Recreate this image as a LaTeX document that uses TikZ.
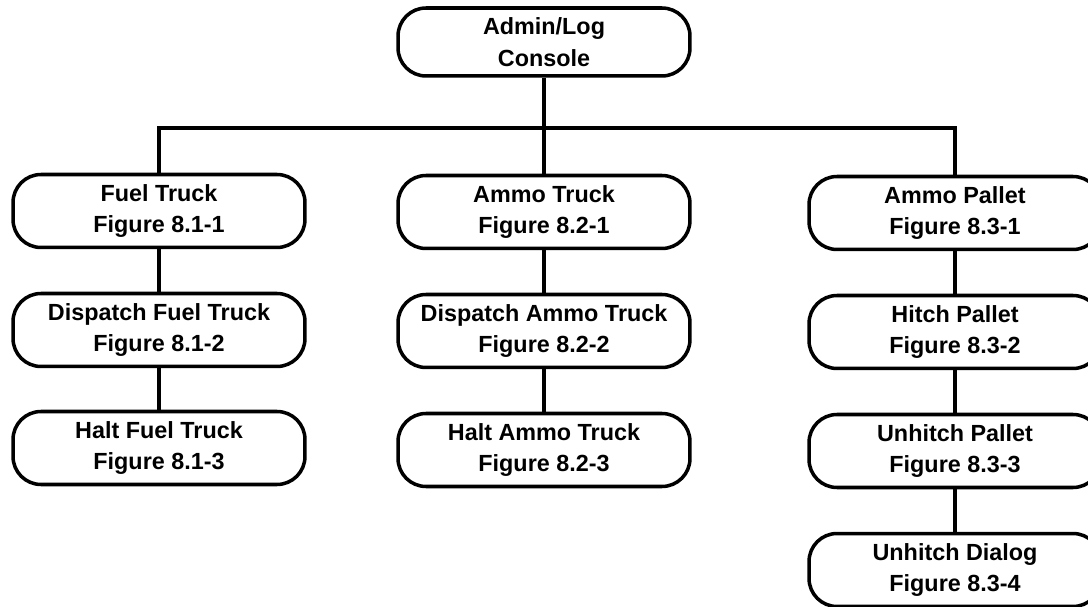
\documentclass[tikz,border=0pt]{standalone}
\usepackage{fontspec}
\setmainfont{Liberation Sans}

\begin{document}
\begin{tikzpicture}[
    x=0.02cm, y=-0.02cm,
    font=\bfseries\fontsize{13.3}{18}\selectfont,
    screen/.style={draw, line width=2pt, rounded corners=0.56cm, minimum width=5.84cm, minimum height=1.46cm, inner sep=0pt, align=center},
    link/.style={line width=2pt}
]
\useasboundingbox (0,0) rectangle (1088,607);

\node[screen, minimum height=1.36cm] (admin) at (544,42) {Admin/Log\\Console};

% fuel truck column
\node[screen] (fuel) at (159,211) {Fuel Truck\\Figure 8.1-1};
\node[screen] (fueldisp) at (159,330) {Dispatch Fuel Truck\\Figure 8.1-2};
\node[screen] (fuelhalt) at (159,448) {Halt Fuel Truck\\Figure 8.1-3};

% ammo truck column
\node[screen] (ammo) at (544,212) {Ammo Truck\\Figure 8.2-1};
\node[screen] (ammodisp) at (544,331) {Dispatch Ammo Truck\\Figure 8.2-2};
\node[screen] (ammohalt) at (544,450) {Halt Ammo Truck\\Figure 8.2-3};

% ammo pallet column
\node[screen] (pallet) at (955,213) {Ammo Pallet\\Figure 8.3-1};
\node[screen] (hitch) at (955,332) {Hitch Pallet\\Figure 8.3-2};
\node[screen] (unhitch) at (955,451) {Unhitch Pallet\\Figure 8.3-3};
\node[screen] (dialog) at (955,570) {Unhitch Dialog\\Figure 8.3-4};

\coordinate (bus) at (544,128);

\draw[link] (admin.south) -- (bus);
\draw[link] (fuel.north) |- (bus) -| (pallet.north);
\draw[link] (ammo.north) -- (bus);

\draw[link] (fuel) -- (fueldisp);
\draw[link] (fueldisp) -- (fuelhalt);
\draw[link] (ammo) -- (ammodisp);
\draw[link] (ammodisp) -- (ammohalt);
\draw[link] (pallet) -- (hitch);
\draw[link] (hitch) -- (unhitch);
\draw[link] (unhitch) -- (dialog);

\end{tikzpicture}
\end{document}
